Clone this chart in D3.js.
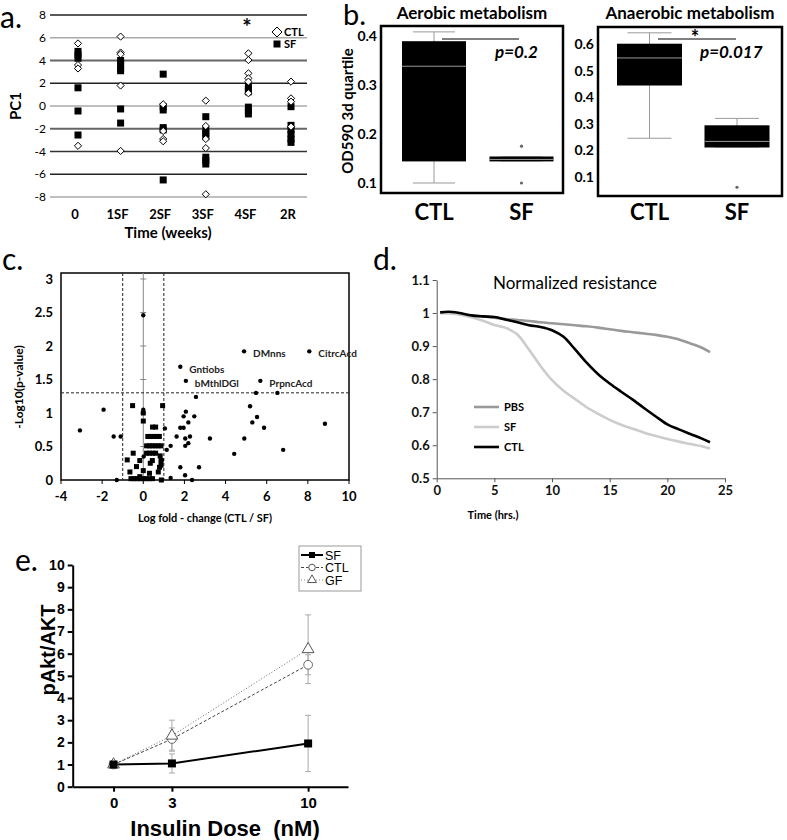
<!DOCTYPE html>
<html>
<head>
<meta charset="utf-8">
<script src="https://cdn.jsdelivr.net/npm/d3@7"></script>
<style>
body{margin:0;background:#fff}
svg{display:block}
</style>
</head>
<body>
<svg id="fig" width="787" height="840"></svg>
<script>
// ---- panel a : PC1 over time ----
const aCats = ["0", "1SF", "2SF", "3SF", "4SF", "2R"];
const aCTL = [
  [5.5, 3.6, 3.3, -3.5],
  [6.1, 4.7, 4.55, 1.8, -3.95],
  [0.15, -2.2, -2.9, -3.1],
  [0.47, -1.76, -2.9, -3.7, -7.76],
  [4.63, 4.04, 2.87, 2.43, 2.14, 1.12],
  [2.14, 0.67, 0.38, -1.82]
];
const aSF = [
  [4.8, 4.5, 4.2, 1.6, -0.44, -2.55],
  [4.0, 3.7, 3.3, 3.1, -0.26, -1.5],
  [2.8, -0.05, -0.35, -1.9, -2.1, -6.5],
  [-0.94, -2.1, -2.4, -2.7, -4.5, -4.8, -5.1],
  [1.7, 1.45, 1.25, -0.1, -0.4, -0.7],
  [-0.06, -1.7, -2.1, -2.5, -2.9, -3.2]
];
const aTicks = [-8, -6, -4, -2, 0, 2, 4, 6, 8];

// ---- panel b : box plots ----
const bGroups = ["CTL", "SF"];
const aeroMin = [0.100, 0.145];
const aeroQ1 = [0.145, 0.145];
const aeroMed = [0.339, 0.149];
const aeroQ3 = [0.388, 0.153];
const aeroMax = [0.408, 0.153];
const aeroOut = [[], [0.175, 0.100]];
const anaMin = [0.245, 0.212];
const anaQ1 = [0.446, 0.212];
const anaMed = [0.550, 0.235];
const anaQ3 = [0.600, 0.292];
const anaMax = [0.643, 0.320];
const anaOut = [[], [0.060]];
const aeroTicks = [0.1, 0.2, 0.3, 0.4];
const anaTicks = [0.1, 0.2, 0.3, 0.4, 0.5, 0.6];

// ---- panel c : volcano plot ----
const cCircles = [
  [0, 2.46], [4.9, 1.92], [8.07, 1.92], [1.8, 1.69], [2.07, 1.48], [5.69, 1.48],
  [5.48, 1.30], [6.52, 1.30], [2.56, 1.24], [5.19, 1.10], [-1.93, 1.05], [2.07, 1.02],
  [1.96, 0.95], [2.48, 0.95], [5.53, 0.94], [2.19, 0.86], [5.3, 0.86], [8.83, 0.84],
  [-3.08, 0.74], [1.8, 0.78], [1.96, 0.78], [5.87, 0.78], [-1.44, 0.65], [-1.1, 0.65],
  [1.05, 0.77], [1.62, 0.65], [2.04, 0.62], [2.27, 0.65], [2.19, 0.55], [2.04, 0.51],
  [3.24, 0.62], [4.91, 0.62], [1.33, 0.51], [1.14, 0.45], [6.8, 0.45], [4.42, 0.39],
  [1.8, 0.19], [2.71, 0.19], [2.03, 0.07], [1.33, 0.03], [2.37, 0], [-1.29, 0],
  [0.02, 0.35], [0, 1.05], [0.9, 0.3]
];
const cSquares = [
  [-0.52, 1.11], [0.94, 1.11], [0, 1.0], [0, 0.88], [0.45, 0.79], [0.6, 0.79],
  [0.22, 0.65], [0.36, 0.65], [0.5, 0.65], [0.64, 0.65], [0.78, 0.65],
  [0.16, 0.51], [0.3, 0.51], [0.44, 0.51], [0.58, 0.51], [0.72, 0.51], [0.86, 0.51],
  [0.16, 0.40], [0.3, 0.40], [0.46, 0.40], [0.6, 0.40], [-0.49, 0.40],
  [-0.78, 0.30], [-0.17, 0.29], [0.44, 0.29], [0.86, 0.29], [-0.33, 0.2], [0.34, 0.25],
  [0.79, 0.19], [-0.65, 0.12], [0, 0.14], [0.73, 0.12], [0.3, 0.1], [-0.17, 0.05],
  [0.88, 0], [-0.6, 0.02], [-0.45, 0.02], [-0.3, 0.02], [-0.15, 0.02], [0, 0.02],
  [0.15, 0.02], [0.3, 0.02], [0.45, 0.02], [0.82, 0.36], [0.86, 0.22]
];
const cNames = ["DMnns", "CitrcAcd", "Gntiobs", "bMthlDGl", "PrpncAcd"];
const cNamePts = [[4.9, 1.92], [8.07, 1.92], [1.8, 1.69], [2.07, 1.48], [5.69, 1.48]];
const cXTicks = [-4, -2, 0, 2, 4, 6, 8, 10];
const cYTicks = [0, 0.5, 1, 1.5, 2, 2.5, 3];

// ---- panel d : normalized resistance ----
const dTime = [0.3, 1, 2, 3, 4, 5, 6, 7, 8, 9, 10, 11, 12, 13, 14, 15, 16, 17, 18, 19, 20, 21, 22, 23, 23.7];
const dPBS = [1.0, 1.0, 0.997, 0.993, 0.99, 0.986, 0.982, 0.979, 0.976, 0.972, 0.969, 0.966, 0.963, 0.96, 0.956, 0.951, 0.946, 0.942, 0.938, 0.934, 0.928, 0.92, 0.908, 0.895, 0.882];
const dSF = [1.0, 1.0, 0.995, 0.987, 0.977, 0.964, 0.955, 0.935, 0.89, 0.84, 0.797, 0.765, 0.74, 0.715, 0.695, 0.677, 0.662, 0.65, 0.638, 0.628, 0.619, 0.611, 0.604, 0.597, 0.59];
const dCTL = [1.002, 1.004, 1.0, 0.993, 0.99, 0.988, 0.98, 0.972, 0.963, 0.958, 0.948, 0.928, 0.89, 0.85, 0.815, 0.787, 0.762, 0.738, 0.712, 0.687, 0.663, 0.648, 0.634, 0.62, 0.609];
const dSeries = ["PBS", "SF", "CTL"];
const dColors = ["#999999", "#cccccc", "#000000"];

// ---- panel e : pAkt/AKT ----
const eDose = [0, 3, 10];
const eSF = [1.0, 1.05, 1.95];
const eSFerr = [0.12, 0.43, 1.27];
const eCTL = [1.0, 2.15, 5.5];
const eCTLerr = [0.12, 0.5, 0.45];
const eGF = [1.0, 2.3, 6.2];
const eGFerr = [0.1, 0.7, 1.55];

const svg = d3.select("#fig");
const cal = "Lato, 'Open Sans', sans-serif";
const ari = "'Liberation Sans', Arial, sans-serif";

function txt(g, x, y, t, size, weight, anchor, font) {
  return g.append("text").attr("x", x).attr("y", y).text(t)
    .attr("font-size", size).attr("font-weight", weight || "normal")
    .attr("text-anchor", anchor || "start").attr("font-family", font || cal)
    .attr("fill", "#000");
}

// ================= a =================
const ga = svg.append("g");
const ax = d3.scalePoint().domain(aCats).range([78, 291]);
const ay = d3.scaleLinear().domain([-8, 8]).range([197, 15]);
const gridCol = {"8": "#222", "6": "#aaa", "4": "#666", "2": "#222", "0": "#aaa", "-2": "#666", "-4": "#333", "-6": "#222", "-8": "#aaa"};
ga.selectAll("line.grid").data(aTicks).join("line")
  .attr("x1", 50).attr("x2", 307)
  .attr("y1", d => ay(d)).attr("y2", d => ay(d))
  .attr("stroke", d => gridCol[d]).attr("stroke-width", d => (d === 4 || d === -2) ? 2 : 1.3);
ga.selectAll("text.yt").data(aTicks).join("text")
  .attr("x", 46).attr("y", d => ay(d)).attr("dy", "0.35em")
  .attr("text-anchor", "end").attr("font-size", 12).attr("font-family", cal)
  .text(d => d);
ga.selectAll("text.xt").data(aCats).join("text")
  .attr("x", d => ax(d) - 3).attr("y", 219)
  .attr("text-anchor", "middle").attr("font-size", 13).attr("font-weight", "bold").attr("font-family", cal)
  .text(d => d);
txt(ga, 168, 238, "Time (weeks)", 15, "bold", "middle");
txt(ga, 0, 0, "PC1", 15, "bold", "middle").attr("transform", "translate(21,106) rotate(-90)");
txt(ga, 0, 28, "a.", 30, "normal");

const diamond = r => `M0,${-r}L${r},0L0,${r}L${-r},0Z`;
aCats.forEach((c, i) => {
  ga.selectAll(null).data(aSF[i]).join("rect")
    .attr("x", ax(c) - 3.5).attr("y", d => ay(d) - 3.5)
    .attr("width", 7).attr("height", 7).attr("fill", "#000");
  ga.selectAll(null).data(aCTL[i]).join("path")
    .attr("d", diamond(3.6))
    .attr("transform", d => `translate(${ax(c)},${ay(d)})`)
    .attr("fill", "#fff").attr("stroke", "#000").attr("stroke-width", 1);
});
ga.append("path").attr("d", diamond(5)).attr("transform", "translate(277,32)")
  .attr("fill", "#fff").attr("stroke", "#000").attr("stroke-width", 1);
txt(ga, 284, 36, "CTL", 11, "bold");
ga.append("rect").attr("x", 273.5).attr("y", 40.5).attr("width", 7).attr("height", 7).attr("fill", "#000");
txt(ga, 284, 48, "SF", 11, "bold");
txt(ga, 247, 35, "*", 22, "bold", "middle");

// ================= b =================
function boxPanel(opt) {
  const g = svg.append("g");
  const y = d3.scaleLinear().domain(opt.dom).range([opt.bottom, opt.top]);
  const x = d3.scalePoint().domain(bGroups).range(opt.centers);
  g.append("rect").attr("x", opt.left).attr("y", opt.top)
    .attr("width", opt.right - opt.left).attr("height", opt.bottom - opt.top)
    .attr("fill", "none").attr("stroke", "#000").attr("stroke-width", 2.5);
  g.selectAll("text.t").data(opt.ticks).join("text")
    .attr("x", opt.left - 4).attr("y", d => y(d)).attr("dy", "0.35em")
    .attr("text-anchor", "end").attr("font-size", 14).attr("font-weight", "bold").attr("font-family", cal)
    .text(d => d.toFixed(1));
  bGroups.forEach((grp, i) => {
    const cx = x(grp), w = opt.bw, cw = opt.cw;
    g.append("line").attr("x1", cx).attr("x2", cx).attr("y1", y(opt.max[i])).attr("y2", y(opt.min[i]))
      .attr("stroke", "#999").attr("stroke-width", 1);
    [opt.max[i], opt.min[i]].forEach(v => {
      g.append("line").attr("x1", cx - cw / 2).attr("x2", cx + cw / 2).attr("y1", y(v)).attr("y2", y(v))
        .attr("stroke", "#999").attr("stroke-width", 1);
    });
    g.append("rect").attr("x", cx - w / 2).attr("width", w)
      .attr("y", y(opt.q3[i]) - 0.5).attr("height", Math.max(4, y(opt.q1[i]) - y(opt.q3[i]) + 1))
      .attr("fill", "#000");
    g.append("line").attr("x1", cx - w / 2).attr("x2", cx + w / 2)
      .attr("y1", y(opt.med[i]) + 0.5).attr("y2", y(opt.med[i]) + 0.5)
      .attr("stroke", "#999").attr("stroke-width", 1);
    g.selectAll(null).data(opt.out[i]).join("circle")
      .attr("cx", cx).attr("cy", d => y(d)).attr("r", 1.6).attr("fill", "#666");
    txt(g, cx, 220, grp, 22, "bold", "middle");
  });
  txt(g, (opt.left + opt.right) / 2, 19, opt.title, 17, "bold", "middle");
  g.append("line").attr("x1", opt.sig[0]).attr("x2", opt.sig[1]).attr("y1", 39).attr("y2", 39)
    .attr("stroke", "#000").attr("stroke-width", 1);
  txt(g, opt.px, 58, opt.p, 17, "bold", "start").attr("font-style", "italic");
  return g;
}
const gb1 = boxPanel({dom: [0.0796, 0.42], top: 26, bottom: 193, left: 381, right: 563,
  centers: [434, 521.5], bw: 64, cw: 42, ticks: aeroTicks, title: "Aerobic metabolism",
  min: aeroMin, q1: aeroQ1, med: aeroMed, q3: aeroQ3, max: aeroMax, out: aeroOut,
  sig: [442, 519], p: "p=0.2", px: 495});
const gb2 = boxPanel({dom: [0.027, 0.665], top: 27, bottom: 196, left: 598, right: 782,
  centers: [649.5, 737], bw: 65, cw: 44, ticks: anaTicks, title: "Anaerobic metabolism",
  min: anaMin, q1: anaQ1, med: anaMed, q3: anaQ3, max: anaMax, out: anaOut,
  sig: [658, 736], p: "p=0.017", px: 700});
txt(gb2, 695, 45, "*", 20, "bold", "middle");
txt(gb1, 343, 25, "b.", 29, "normal");
txt(gb1, 0, 0, "OD590 3d quartile", 15, "bold", "middle").attr("transform", "translate(353,111) rotate(-90)");

// ================= c =================
const gc = svg.append("g");
const cxs = d3.scaleLinear().domain([-4, 10]).range([61, 349]);
const cys = d3.scaleLinear().domain([0, 3]).range([480, 279]);
gc.append("rect").attr("x", 61).attr("y", 273).attr("width", 288).attr("height", 207)
  .attr("fill", "none").attr("stroke", "#000").attr("stroke-width", 1.5);
gc.append("line").attr("x1", cxs(0)).attr("x2", cxs(0)).attr("y1", 273).attr("y2", 480)
  .attr("stroke", "#888").attr("stroke-width", 1);
gc.selectAll("line.it").data(cYTicks.slice(1)).join("line")
  .attr("x1", cxs(0) - 3).attr("x2", cxs(0) + 3).attr("y1", d => cys(d)).attr("y2", d => cys(d))
  .attr("stroke", "#888");
gc.selectAll("line.xt").data(cXTicks).join("line")
  .attr("x1", d => cxs(d)).attr("x2", d => cxs(d)).attr("y1", 480).attr("y2", 484)
  .attr("stroke", "#000");
[-1, 1].forEach(v => {
  gc.append("line").attr("x1", cxs(v)).attr("x2", cxs(v)).attr("y1", 273).attr("y2", 480)
    .attr("stroke", "#222").attr("stroke-dasharray", "3,2");
});
gc.append("line").attr("x1", 61).attr("x2", 349).attr("y1", cys(1.301)).attr("y2", cys(1.301))
  .attr("stroke", "#222").attr("stroke-dasharray", "3,2");
gc.selectAll("text.yt").data(cYTicks).join("text")
  .attr("x", 53).attr("y", d => cys(d)).attr("dy", "0.35em").attr("text-anchor", "end")
  .attr("font-size", 13).attr("font-weight", "bold").attr("font-family", cal).text(d => d);
gc.selectAll("text.xl").data(cXTicks).join("text")
  .attr("x", d => cxs(d)).attr("y", 501).attr("text-anchor", "middle")
  .attr("font-size", 13).attr("font-weight", "bold").attr("font-family", cal).text(d => d);
gc.selectAll("rect.sq").data(cSquares).join("rect")
  .attr("x", d => cxs(d[0]) - 2.5).attr("y", d => cys(d[1]) - 2.5)
  .attr("width", 5).attr("height", 5).attr("fill", "#000");
gc.selectAll("circle.pt").data(cCircles).join("circle")
  .attr("cx", d => cxs(d[0])).attr("cy", d => cys(d[1])).attr("r", 2.2).attr("fill", "#000");
gc.selectAll("text.nm").data(cNames).join("text")
  .attr("x", (d, i) => cxs(cNamePts[i][0]) + 9).attr("y", (d, i) => cys(cNamePts[i][1]) + 6)
  .attr("font-size", 10).attr("font-weight", "bold").attr("font-family", cal).attr("fill", "#222")
  .text(d => d);
txt(gc, 205, 522, "Log fold - change (CTL / SF)", 11, "bold", "middle");
txt(gc, 0, 0, "-Log10(p-value)", 12, "bold", "middle").attr("transform", "translate(23,387) rotate(-90)");
txt(gc, 2, 270, "c.", 30, "normal");

// ================= d =================
const gd = svg.append("g");
const dx = d3.scaleLinear().domain([0, 25]).range([436.7, 725]);
const dy = d3.scaleLinear().domain([0.5, 1.1]).range([478.3, 280]);
const yAxD = gd.append("g").attr("transform", "translate(436.7,0)")
  .call(d3.axisLeft(dy).tickValues([0.5, 0.6, 0.7, 0.8, 0.9, 1, 1.1]).tickSize(4).tickSizeOuter(0)
    .tickFormat(d => d === 1 ? "1" : d.toFixed(1)));
const xAxD = gd.append("g").attr("transform", "translate(0,478.3)")
  .call(d3.axisBottom(dx).tickValues([0, 5, 10, 15, 20, 25]).tickSize(4).tickSizeOuter(0));
[yAxD, xAxD].forEach(a => {
  a.selectAll("path,line").attr("stroke", "#555");
  a.selectAll("text").attr("font-size", 13).attr("font-weight", "bold").attr("font-family", cal).attr("fill", "#111");
});
const dLine = d3.line().x((d, i) => dx(dTime[i])).y(d => dy(d)).curve(d3.curveMonotoneX);
[dPBS, dSF, dCTL].forEach((s, k) => {
  gd.append("path").datum(s).attr("d", dLine).attr("fill", "none")
    .attr("stroke", dColors[k]).attr("stroke-width", 2.6);
});
dSeries.forEach((n, k) => {
  const yy = 407 + k * 20;
  gd.append("line").attr("x1", 474).attr("x2", 499).attr("y1", yy).attr("y2", yy)
    .attr("stroke", dColors[k]).attr("stroke-width", 2.6);
  txt(gd, 504, yy + 4, n, 11, "bold");
});
txt(gd, 575, 289, "Normalized resistance", 17, "normal", "middle");
txt(gd, 493, 519, "Time (hrs.)", 11, "bold", "middle");
txt(gd, 373, 270, "d.", 30, "normal");

// ================= e =================
const ge = svg.append("g");
const ex = d3.scaleLinear().domain([-2.1, 12.05]).range([72.7, 348]);
const ey = d3.scaleLinear().domain([0, 10]).range([786.7, 565]);
const yAxE = ge.append("g").attr("transform", "translate(72.7,0)")
  .call(d3.axisLeft(ey).tickValues(d3.range(0, 11)).tickSize(5).tickSizeOuter(0));
const xAxE = ge.append("g").attr("transform", "translate(0,786.7)")
  .call(d3.axisBottom(ex).tickValues(eDose).tickSize(5).tickSizeOuter(0));
[yAxE, xAxE].forEach(a => {
  a.selectAll("path,line").attr("stroke", "#000").attr("stroke-width", 2);
  a.selectAll("text").attr("font-weight", "bold").attr("font-family", ari).attr("fill", "#000");
});
yAxE.selectAll("text").attr("font-size", 14);
xAxE.selectAll("text").attr("font-size", 15).attr("dy", "0.9em");

function errBars(vals, errs) {
  vals.forEach((v, i) => {
    const x0 = ex(eDose[i]);
    ge.append("line").attr("x1", x0).attr("x2", x0).attr("y1", ey(v - errs[i])).attr("y2", ey(v + errs[i]))
      .attr("stroke", "#aaa").attr("stroke-width", 1);
    [v - errs[i], v + errs[i]].forEach(e => {
      ge.append("line").attr("x1", x0 - 3).attr("x2", x0 + 3).attr("y1", ey(e)).attr("y2", ey(e))
        .attr("stroke", "#aaa").attr("stroke-width", 1);
    });
  });
}
errBars(eGF, eGFerr);
errBars(eCTL, eCTLerr);
errBars(eSF, eSFerr);
const eLine = d3.line().x((d, i) => ex(eDose[i])).y(d => ey(d));
ge.append("path").datum(eGF).attr("d", eLine).attr("fill", "none")
  .attr("stroke", "#666").attr("stroke-width", 1).attr("stroke-dasharray", "1,2");
ge.append("path").datum(eCTL).attr("d", eLine).attr("fill", "none")
  .attr("stroke", "#444").attr("stroke-width", 1).attr("stroke-dasharray", "3,2");
ge.append("path").datum(eSF).attr("d", eLine).attr("fill", "none")
  .attr("stroke", "#000").attr("stroke-width", 2);
const tri = d3.symbol().type(d3.symbolTriangle).size(60);
const sq = d3.symbol().type(d3.symbolSquare).size(64);
const circ = d3.symbol().type(d3.symbolCircle).size(60);
ge.selectAll("path.ctl").data(eCTL).join("path").attr("d", circ)
  .attr("transform", (d, i) => `translate(${ex(eDose[i])},${ey(d)})`)
  .attr("fill", "#fff").attr("stroke", "#666").attr("stroke-width", 1);
ge.selectAll("path.gf").data(eGF).join("path").attr("d", tri)
  .attr("transform", (d, i) => `translate(${ex(eDose[i])},${ey(d)})`)
  .attr("fill", "#fff").attr("stroke", "#555").attr("stroke-width", 1);
ge.selectAll("path.sf").data(eSF).join("path").attr("d", sq)
  .attr("transform", (d, i) => `translate(${ex(eDose[i])},${ey(d)})`)
  .attr("fill", "#000");
// legend
ge.append("rect").attr("x", 299).attr("y", 546).attr("width", 62).attr("height", 45)
  .attr("fill", "#fff").attr("stroke", "#999").attr("stroke-width", 1);
const eLeg = [["SF", "#000", 2, null, "#000"], ["CTL", "#444", 1, "3,2", "#fff"], ["GF", "#888", 1, "1,2", "#fff"]];
const eLegSym = [d3.symbolSquare, d3.symbolCircle, d3.symbolTriangle];
eLeg.forEach((l, k) => {
  const yy = 555 + k * 12.5;
  ge.append("line").attr("x1", 301).attr("x2", 323).attr("y1", yy).attr("y2", yy)
    .attr("stroke", l[1]).attr("stroke-width", l[2]).attr("stroke-dasharray", l[3]);
  ge.append("path").attr("d", d3.symbol().type(eLegSym[k]).size(k === 0 ? 36 : 34))
    .attr("transform", `translate(312,${yy})`).attr("fill", l[4]).attr("stroke", k === 0 ? "none" : "#555");
  txt(ge, 325, yy + 4.5, l[0], 12.5, "normal", "start", ari);
});
txt(ge, 0, 0, "pAkt/AKT", 20, "bold", "middle", ari).attr("transform", "translate(55,650) rotate(-90)");
txt(ge, 225, 836, "Insulin Dose\u00a0 (nM)", 22, "bold", "middle", ari);
txt(ge, 15, 571, "e.", 30, "normal");
</script>
</body>
</html>
